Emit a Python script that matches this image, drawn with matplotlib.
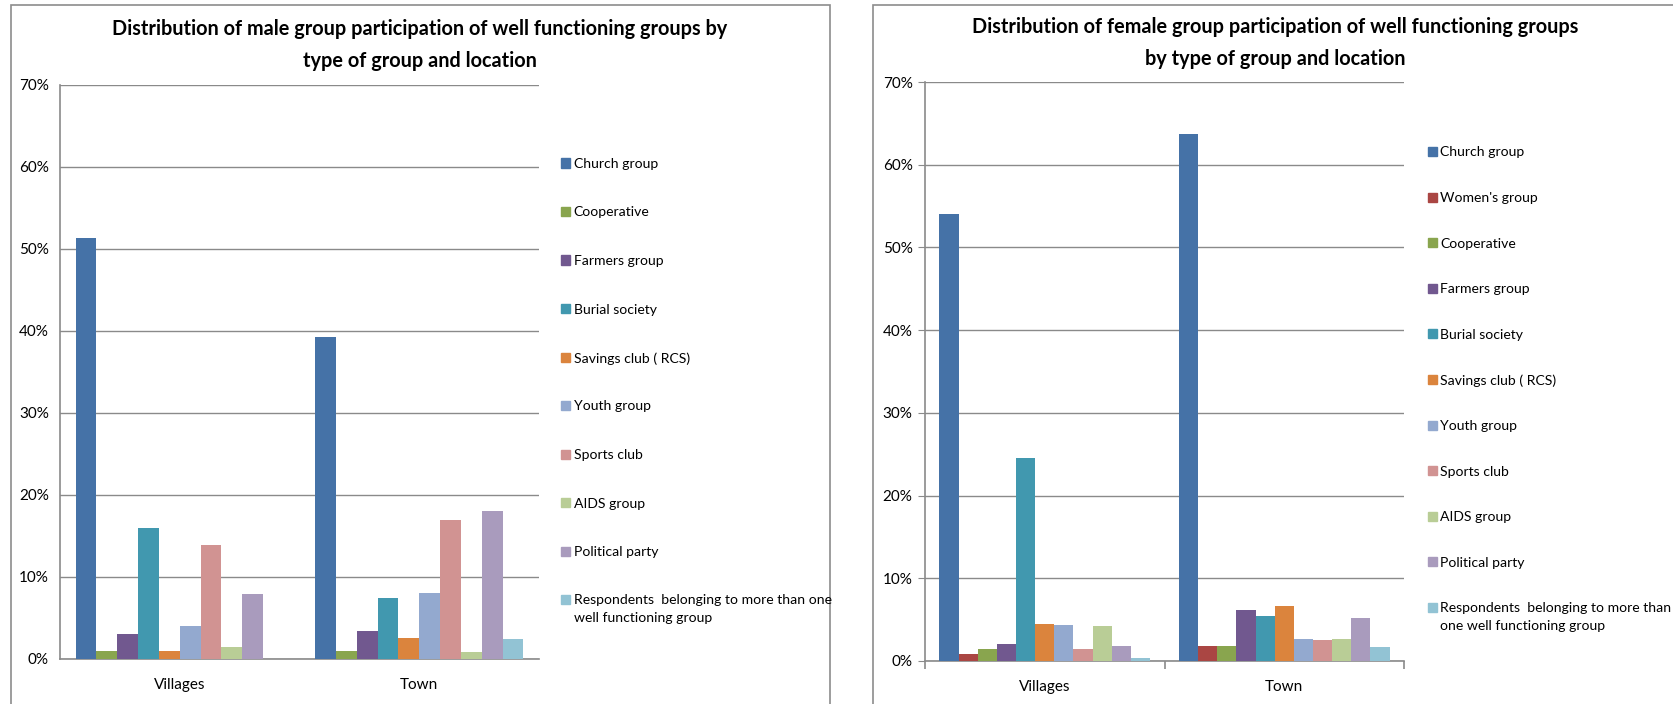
import numpy as np
import matplotlib
matplotlib.use("Agg")
import matplotlib.pyplot as plt
from matplotlib.patches import Rectangle

plt.rcParams['font.family'] = ['Lato', 'DejaVu Sans']

locations = ['Villages', 'Town']

male_groups = ['Church group', 'Cooperative', 'Farmers group', 'Burial society',
               'Savings club ( RCS)', 'Youth group', 'Sports club', 'AIDS group',
               'Political party',
               'Respondents  belonging to more than one\nwell functioning group']
male_villages = [51.4, 1.0, 3.0, 16.0, 1.0, 4.0, 13.9, 1.5, 7.9, 0.0]
male_town = [39.3, 1.0, 3.4, 7.5, 2.6, 8.1, 16.9, 0.8, 18.0, 2.4]

female_groups = ['Church group', "Women's group", 'Cooperative', 'Farmers group',
                 'Burial society', 'Savings club ( RCS)', 'Youth group', 'Sports club',
                 'AIDS group', 'Political party',
                 'Respondents  belonging to more than\none well functioning group']
female_villages = [54.1, 0.8, 1.5, 2.1, 24.6, 4.5, 4.4, 1.4, 4.2, 1.8, 0.4]
female_town = [63.7, 1.8, 1.8, 6.2, 5.5, 6.7, 2.6, 2.5, 2.6, 5.2, 1.7]

palette = {
    'Church group': '#4572A7', "Women's group": '#AA4643', 'Cooperative': '#89A54E',
    'Farmers group': '#71588F', 'Burial society': '#4198AF',
    'Savings club ( RCS)': '#DB843D', 'Youth group': '#93A9CF',
    'Sports club': '#D19392', 'AIDS group': '#B9CD96', 'Political party': '#A99BBD',
}
resp_color = '#92C3D4'

W, H = 1673, 704
fig = plt.figure(figsize=(W / 100, H / 100), dpi=100)


def px_axes(left, top, right, bottom):
    return fig.add_axes([left / W, 1 - bottom / H, (right - left) / W, (bottom - top) / H])


def legend(groups, x0, y0, dy):
    # Excel-style legend: small square, label, evenly spaced rows
    for i, g in enumerate(groups):
        yc = y0 + i * dy
        fig.add_artist(Rectangle((x0 / W, 1 - (yc + 4.5) / H), 8.5 / W, 9 / H,
                                 transform=fig.transFigure,
                                 color=palette.get(g, resp_color)))
        fig.text((x0 + 12.5) / W, 1 - (yc - 5) / H, g, ha='left', va='top',
                 fontsize=10.1, linespacing=1.5)


def panel(box, frame, title, title_xy, groups, vill, town, ticks):
    # outer chart frame
    fig.add_artist(Rectangle((frame[0] / W, -0.1), (frame[1] - frame[0]) / W,
                             1.1 - frame[2] / H, transform=fig.transFigure,
                             fill=False, edgecolor='#8c8c8c', lw=1.2))
    ax = px_axes(*box)
    n = len(groups)
    w = 1 / (n + 1.5)
    x = np.arange(len(locations))
    for i, g in enumerate(groups):
        ax.bar(x + (i - (n - 1) / 2) * w, [vill[i], town[i]], w,
               color=palette.get(g, resp_color), label=g, zorder=3)
    ax.set_xlim(-0.5, 1.5)
    ax.set_ylim(0, 70)
    ax.set_yticks(np.arange(0, 71, 10))
    ax.set_yticklabels([f'{v}%' for v in range(0, 71, 10)])
    ax.yaxis.grid(True, color='#8a8a8a', lw=1)
    ax.set_axisbelow(True)
    ax.set_xticks(x)
    ax.set_xticklabels(locations)
    for s in ['top', 'right']:
        ax.spines[s].set_visible(False)
    for s in ['left', 'bottom']:
        ax.spines[s].set_color('#8a8a8a')
        ax.spines[s].set_linewidth(1.2)
    ax.tick_params(axis='x', length=0, pad=14, labelsize=11)
    ax.tick_params(axis='y', length=5 if ticks else 0, color='#8a8a8a', pad=4 if ticks else 8,
                   labelsize=11)
    if ticks:
        ax.set_xticks([-0.5, 0.5, 1.5], minor=True)
        ax.tick_params(axis='x', which='minor', length=6, color='#8a8a8a', width=1.2)
    fig.text(title_xy[0] / W, 1 - title_xy[1] / H, title, ha='center', va='center',
             fontsize=14.3, fontweight='bold', linespacing=1.7)
    return ax


panel((60, 85, 539, 659), (11, 830, 5),
      'Distribution of male group participation of well functioning groups by\n'
      'type of group and location', (420, 45),
      male_groups, male_villages, male_town, False)
legend(male_groups, 561, 163, 48.5)

panel((925, 82, 1404, 661), (873, 1700, 5),
      'Distribution of female group participation of well functioning groups\n'
      'by type of group and location', (1275, 43),
      female_groups, female_villages, female_town, True)
legend(female_groups, 1428, 151.5, 45.6)

fig.savefig('out.png', dpi=100)
